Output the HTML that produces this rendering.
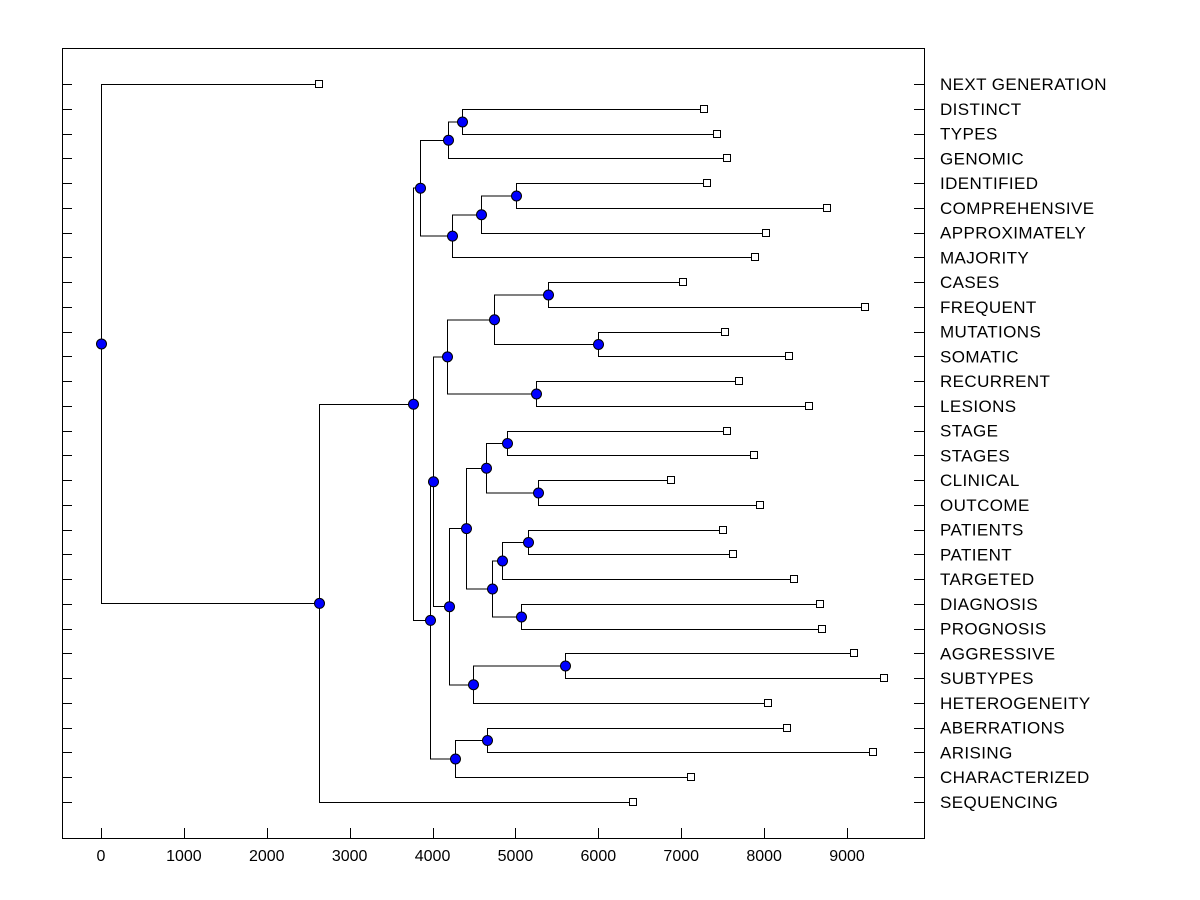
<!DOCTYPE html>
<html><head><meta charset="utf-8"><style>
html,body{margin:0;padding:0;background:#fff;}
svg{display:block;font-family:"Liberation Sans",Arial,sans-serif;}
</style></head><body>
<svg id="chart" width="1200" height="900"></svg>
<script>
// Leaf labels (top to bottom) and leaf end heights
const leafNames = ["NEXT GENERATION","DISTINCT","TYPES","GENOMIC","IDENTIFIED","COMPREHENSIVE","APPROXIMATELY","MAJORITY","CASES","FREQUENT","MUTATIONS","SOMATIC","RECURRENT","LESIONS","STAGE","STAGES","CLINICAL","OUTCOME","PATIENTS","PATIENT","TARGETED","DIAGNOSIS","PROGNOSIS","AGGRESSIVE","SUBTYPES","HETEROGENEITY","ABERRATIONS","ARISING","CHARACTERIZED","SEQUENCING"];
const leafValues = [2630,7274,7430,7551,7310,8757,8022,7889,7020,9216,7527,8299,7696,8540,7551,7877,6876,7949,7503,7624,8359,8673,8697,9083,9445,8046,8275,9312,7117,6417];
// Merge nodes: [height, childA, childB]; children are leaf indices (numbers) or node ids ("n#")
const nodeIds = ["n0","n1","n2","n3","n4","n5","n6","n7","n8","n9","n10","n11","n12","n13","n14","n15","n16","n17","n18","n19","n20","n21","n22","n23","n24","n25","n26","n27","n28"];
const nodeHeights = [0,2630,3764,3848,4186,4355,4234,4584,5006,3969,4270,4656,4005,4174,4741,5392,5995,5247,4198,4487,5597,4403,4644,4897,5271,4717,4837,5151,5066];
const nodeLeft = [0,"n2","n3","n4","n5",1,"n7","n8",4,"n12","n11",26,"n13","n14","n15",8,10,12,"n21","n20",23,"n22","n23",14,16,"n26","n27",18,21];
const nodeRight = ["n1",29,"n9","n6",3,2,7,6,5,"n10",28,27,"n18","n17","n16",9,11,13,"n19",25,24,"n25","n24",15,17,"n28",20,19,22];
const xTicks = [0,1000,2000,3000,4000,5000,6000,7000,8000,9000];

const NS="http://www.w3.org/2000/svg";
const svg=document.getElementById('chart');
const L=62,R=924,T=48,B=838;
function xs(v){return 101+v*(847-101)/9000;}
function ys(i){return 84+i*(802-84)/29;}
function mk(tag,attrs){const e=document.createElementNS(NS,tag);for(const k in attrs)e.setAttribute(k,attrs[k]);svg.appendChild(e);return e;}

const frame=mk('rect',{x:L+0.5,y:T+0.5,width:R-L,height:B-T,fill:'none',stroke:'#000','stroke-width':1,'shape-rendering':'crispEdges'});



leafNames.forEach((n,i)=>{
  const y=Math.round(ys(i))+0.5;
  const t1=mk('line',{x1:L,y1:y,x2:L+10,y2:y,stroke:'#000','shape-rendering':'crispEdges'});
  
  
  const t2=mk('line',{x1:R-10,y1:y,x2:R,y2:y,stroke:'#000','shape-rendering':'crispEdges'});
  
  
  const tx=mk('text',{x:940,y:ys(i)+6,'font-size':17,'letter-spacing':'0.4',fill:'#000'});
  tx.textContent=n;
  
  
});
xTicks.forEach(v=>{
  const x=Math.round(xs(v))+0.5;
  const t=mk('line',{x1:x,y1:B-10,x2:x,y2:B,stroke:'#000','shape-rendering':'crispEdges'});
  
  
  const tx=mk('text',{x:xs(v),y:861,'font-size':16,'text-anchor':'middle',fill:'#000'});
  tx.textContent=String(v);
  
  
});

function getY(c){
  if(typeof c==='number') return Math.round(ys(c))+0.5;
  const k=nodeIds.indexOf(c);
  return (getY(nodeLeft[k])+getY(nodeRight[k]))/2;
}
function getX(c){
  if(typeof c==='number') return Math.round(xs(leafValues[c]))+0.5;
  return Math.round(xs(nodeHeights[nodeIds.indexOf(c)]))+0.5;
}
const markers=[];
nodeIds.forEach((id,k)=>{
  const x=Math.round(xs(nodeHeights[k]))+0.5;
  const ya=getY(nodeLeft[k]), yb=getY(nodeRight[k]);
  const p=mk('path',{d:`M${getX(nodeLeft[k])},${ya}H${x}V${yb}H${getX(nodeRight[k])}`,fill:'none',stroke:'#000','stroke-width':1,'shape-rendering':'crispEdges'});
  
  
  markers.push([x,(ya+yb)/2,id]);
});
leafNames.forEach((n,i)=>{
  const r=mk('rect',{x:Math.round(xs(leafValues[i]))-3.5,y:Math.round(ys(i))-3.5,width:7,height:7,fill:'#fff',stroke:'#000','shape-rendering':'crispEdges'});
  
  
});
markers.forEach(m=>{
  const c=mk('circle',{cx:m[0],cy:m[1],r:5,fill:'#0000ff',stroke:'#000','stroke-width':1});
  
  
});
</script>
</body></html>
